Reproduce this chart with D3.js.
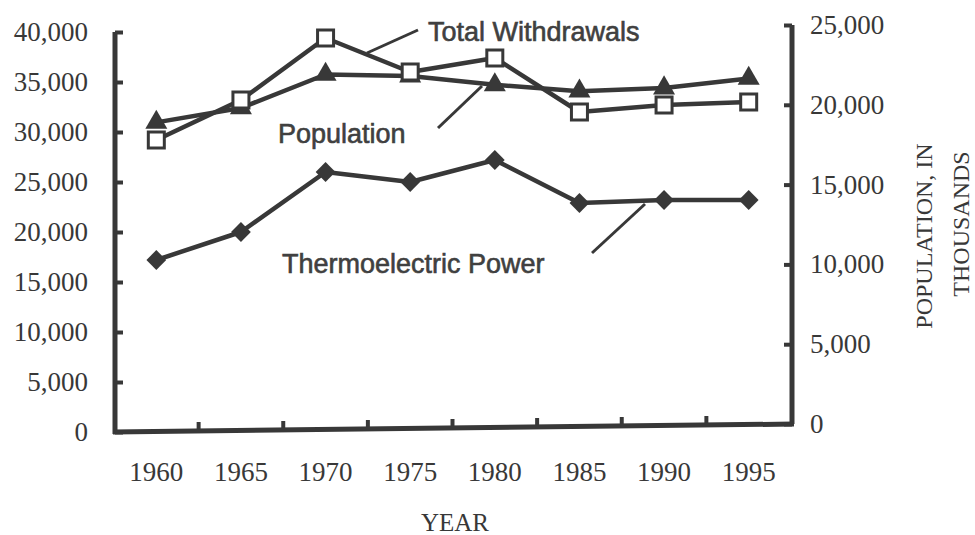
<!DOCTYPE html>
<html>
<head>
<meta charset="utf-8">
<script src="https://cdn.jsdelivr.net/npm/d3@7"></script>
<style>
  body { margin: 0; background: #fff; }
  svg { display: block; }
</style>
</head>
<body>
<script>
// data
var years = ["1960", "1965", "1970", "1975", "1980", "1985", "1990", "1995"];
var totalWithdrawals = [29200, 33200, 39400, 36000, 37400, 32000, 32700, 33000];
var thermoelectric = [17200, 20000, 26000, 25000, 27200, 22900, 23200, 23200];
var population = [18900, 19800, 21900, 21800, 21250, 20850, 21050, 21650]; // right axis, thousands
var leftTicks = [0, 5000, 10000, 15000, 20000, 25000, 30000, 35000, 40000];
var rightTicks = [0, 5000, 10000, 15000, 20000, 25000];

var width = 975, height = 535;
var ink = "#383838";
var serif = "'Liberation Serif', 'Times New Roman', serif";
var sans = "'Liberation Sans', Arial, sans-serif";

var svg = d3.select("body").append("svg")
    .attr("width", width)
    .attr("height", height);

// scales
var x = d3.scaleBand().domain(years).range([114, 791]);
var yL = d3.scaleLinear().domain([0, 40000]).range([432, 32]);
var yR = d3.scaleLinear().domain([0, 25000]).range([424, 25]);
var fmt = d3.format(",");

// left axis
var left = svg.append("g").attr("transform", "translate(115,0)")
    .call(d3.axisRight(yL).tickValues(leftTicks).tickSize(8).tickFormat(""));
left.select(".domain").remove();
left.selectAll(".tick line").attr("stroke", ink).attr("stroke-width", 4);
svg.append("line")
    .attr("x1", 115).attr("x2", 115)
    .attr("y1", yL(40000)).attr("y2", yL(0) + 2)
    .attr("stroke", ink).attr("stroke-width", 5);
svg.append("g").selectAll("text")
    .data(leftTicks).enter().append("text")
    .attr("x", 88)
    .attr("y", function(d) { return yL(d) + 9; })
    .attr("text-anchor", "end")
    .attr("font-family", serif)
    .attr("font-size", 27)
    .attr("fill", ink)
    .text(function(d) { return fmt(d); });

// right axis
var right = svg.append("g").attr("transform", "translate(792,0)")
    .call(d3.axisLeft(yR).tickValues(rightTicks).tickSize(8).tickFormat(""));
right.select(".domain").remove();
right.selectAll(".tick line").attr("stroke", ink).attr("stroke-width", 4);
svg.append("line")
    .attr("x1", 792).attr("x2", 792)
    .attr("y1", yR(25000)).attr("y2", yR(0))
    .attr("stroke", ink).attr("stroke-width", 5);
svg.append("g").selectAll("text")
    .data(rightTicks).enter().append("text")
    .attr("x", 810)
    .attr("y", function(d) { return yR(d) + 9; })
    .attr("font-family", serif)
    .attr("font-size", 27)
    .attr("fill", ink)
    .text(function(d) { return fmt(d); });

// bottom axis (slightly tilted in the scan)
var bottomY = d3.scaleLinear().domain([114, 791]).range([yL(0), yR(0)]);
svg.append("line")
    .attr("x1", 113).attr("y1", yL(0))
    .attr("x2", 794).attr("y2", yR(0))
    .attr("stroke", ink).attr("stroke-width", 5);
var bounds = years.slice(1).map(function(d) { return x(d); });
svg.append("g").selectAll("line")
    .data(bounds).enter().append("line")
    .attr("x1", function(d) { return d; })
    .attr("x2", function(d) { return d; })
    .attr("y1", function(d) { return bottomY(d); })
    .attr("y2", function(d) { return bottomY(d) - 9; })
    .attr("stroke", ink).attr("stroke-width", 4);
svg.append("g").selectAll("text")
    .data(years).enter().append("text")
    .attr("x", function(d) { return x(d) + x.bandwidth() / 2; })
    .attr("y", 481)
    .attr("text-anchor", "middle")
    .attr("font-family", serif)
    .attr("font-size", 27)
    .attr("fill", ink)
    .text(function(d) { return d; });

// axis titles
svg.append("text")
    .attr("x", 455).attr("y", 531)
    .attr("text-anchor", "middle")
    .attr("font-family", serif)
    .attr("font-size", 25)
    .attr("fill", ink)
    .text("YEAR");
svg.append("text")
    .attr("transform", "translate(932,236) rotate(-90)")
    .attr("text-anchor", "middle")
    .attr("font-family", serif)
    .attr("font-size", 24)
    .attr("fill", ink)
    .text("POPULATION, IN");
svg.append("text")
    .attr("transform", "translate(969,224) rotate(-90)")
    .attr("text-anchor", "middle")
    .attr("font-family", serif)
    .attr("font-size", 24)
    .attr("fill", ink)
    .text("THOUSANDS");

// series
var cx = function(d, i) { return x(years[i]) + x.bandwidth() / 2; };
var lineL = d3.line().x(cx).y(function(d) { return yL(d); });
var lineR = d3.line().x(cx).y(function(d) { return yR(d); });

[[totalWithdrawals, lineL], [population, lineR], [thermoelectric, lineL]].forEach(function(s) {
    svg.append("path")
        .datum(s[0])
        .attr("d", s[1])
        .attr("fill", "none")
        .attr("stroke", ink)
        .attr("stroke-width", 4.5)
        .attr("stroke-linejoin", "round");
});

// markers
svg.append("g").selectAll("path")
    .data(thermoelectric).enter().append("path")
    .attr("transform", function(d, i) { return "translate(" + cx(d, i) + "," + yL(d) + ") rotate(45)"; })
    .attr("d", "M-7,-7H7V7H-7Z")
    .attr("fill", ink);

svg.append("g").selectAll("path")
    .data(population).enter().append("path")
    .attr("transform", function(d, i) { return "translate(" + cx(d, i) + "," + yR(d) + ")"; })
    .attr("d", d3.symbol().type(d3.symbolTriangle).size(210))
    .attr("fill", ink);

svg.append("g").selectAll("rect")
    .data(totalWithdrawals).enter().append("rect")
    .attr("x", function(d, i) { return cx(d, i) - 8; })
    .attr("y", function(d) { return yL(d) - 8; })
    .attr("width", 16).attr("height", 16)
    .attr("fill", "#fff")
    .attr("stroke", ink)
    .attr("stroke-width", 3);

// labels with leader lines
var labels = [
    { text: "Total Withdrawals", x: 428, y: 41, lx1: 367, ly1: 53, lx2: 418, ly2: 30 },
    { text: "Population", x: 278, y: 143, lx1: 438, ly1: 128, lx2: 482, ly2: 86 },
    { text: "Thermoelectric Power", x: 282, y: 273, lx1: 592, ly1: 253, lx2: 645, ly2: 204 }
];
labels.forEach(function(l) {
    svg.append("line")
        .attr("x1", l.lx1).attr("y1", l.ly1)
        .attr("x2", l.lx2).attr("y2", l.ly2)
        .attr("stroke", ink).attr("stroke-width", 3);
    svg.append("text")
        .attr("x", l.x).attr("y", l.y)
        .attr("font-family", sans)
        .attr("font-size", 27)
        .attr("fill", "#404040")
        .attr("stroke", "#404040")
        .attr("stroke-width", 0.6)
        .text(l.text);
});
</script>
</body>
</html>
